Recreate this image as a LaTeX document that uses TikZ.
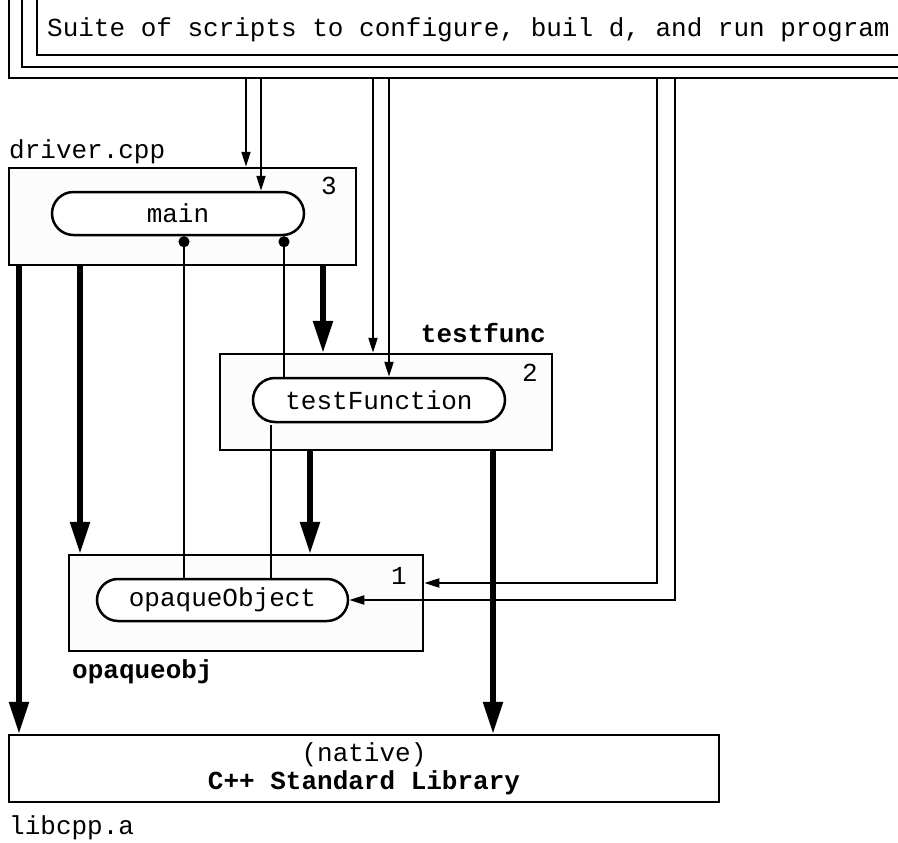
\documentclass[tikz,border=0pt]{standalone}
\usepackage{fontspec}
\setmainfont{Liberation Mono}
\usetikzlibrary{arrows.meta,shapes.misc}
\begin{document}
\begin{tikzpicture}[x=1pt,y=-1pt,
  every node/.style={font=\fontsize{26}{29}\selectfont, inner sep=0pt},
  comp/.style={draw, line width=2.5pt, fill=gray!2, rectangle},
  capsule/.style={draw, line width=2.5pt, fill=white, rounded rectangle},
  frameline/.style={line width=2.5pt},
  thinarrow/.style={line width=2pt, -{Triangle[width=9pt,length=15pt]}},
  thickarrow/.style={line width=5.5pt, -{Triangle[width=19pt,length=32pt]}},
  callline/.style={line width=2pt},
  dotcall/.style={line width=2pt, {Circle[length=11pt]}-}
]
\useasboundingbox (0,0) rectangle (898,843);
% top frames
\draw[frameline] (9,-5) |- (905,78);
\draw[frameline] (22,-5) |- (905,67);
\draw[frameline] (37,-5) |- (905,55);
\node[anchor=west] (suite) at (47,30) {Suite of scripts to configure, buil d, and run program};
\coordinate (f1) at (0,78);

% components
\node[comp, minimum width=347pt, minimum height=97pt] (drv) at (182.5,216.5) {};
\node[comp, minimum width=332pt, minimum height=96pt] (tfb) at (386,402) {};
\node[comp, minimum width=354pt, minimum height=96pt] (opb) at (246,603) {};
\node[draw, line width=2.5pt, fill=white, minimum width=710pt, minimum height=67pt] (lib) at (364,768.5) {};

\node[capsule, minimum width=252pt, minimum height=43pt] (main) at (178,213.5) {main};
\node[capsule, minimum width=252pt, minimum height=44pt] (tf) at (379,400) {testFunction};
\node[capsule, minimum width=251pt, minimum height=42pt] (op) at (222.5,600) {opaqueObject};

% labels
\node[anchor=west] (drvl) at (9,152) {driver.cpp};
\node[anchor=east] (tfl) at (546,333) {\bfseries testfunc};
\node[anchor=west] (opl) at (72,672) {\bfseries opaqueobj};
\node[anchor=west] (libl) at (9,828) {libcpp.a};
\node (n3) at (329,186) {3};
\node (n2) at (530,373) {2};
\node (n1) at (399,576) {1};
\node (nat) at (364,755) {(native)};
\node (std) at (364,783) {\bfseries C++ Standard Library};

% script arrows
\draw[thinarrow] (f1 -| 246,0) -- (drv.north -| 246,0);
\draw[thinarrow] (f1 -| 261,0) -- (main.north -| 261,0);
\draw[thinarrow] (f1 -| 373,0) -- (tfb.north -| 373,0);
\draw[thinarrow] (f1 -| 389,0) -- (tf.north -| 389,0);
\draw[thinarrow] (f1 -| 657,0) |- (opb.east |- 0,583);
\draw[thinarrow] (f1 -| 675,0) |- (op.east);

% dependency arrows
\draw[thickarrow] (drv.south -| 19,0) -- (lib.north -| 19,0);
\draw[thickarrow] (drv.south -| 80,0) -- (opb.north -| 80,0);
\draw[thickarrow] (drv.south -| 323,0) -- (tfb.north -| 323,0);
\draw[thickarrow] (tfb.south -| 310,0) -- (opb.north -| 310,0);
\draw[thickarrow] (tfb.south -| 493,0) -- (lib.north -| 493,0);

% call lines
\draw[dotcall] (main.south -| 184,0) -- (op.north -| 184,0);
\draw[dotcall] (main.south -| 284,0) -- (tf.north -| 284,0);
\draw[callline] ([yshift=-2pt]tf.south -| 271,0) -- (op.north -| 271,0);
\end{tikzpicture}
\end{document}
